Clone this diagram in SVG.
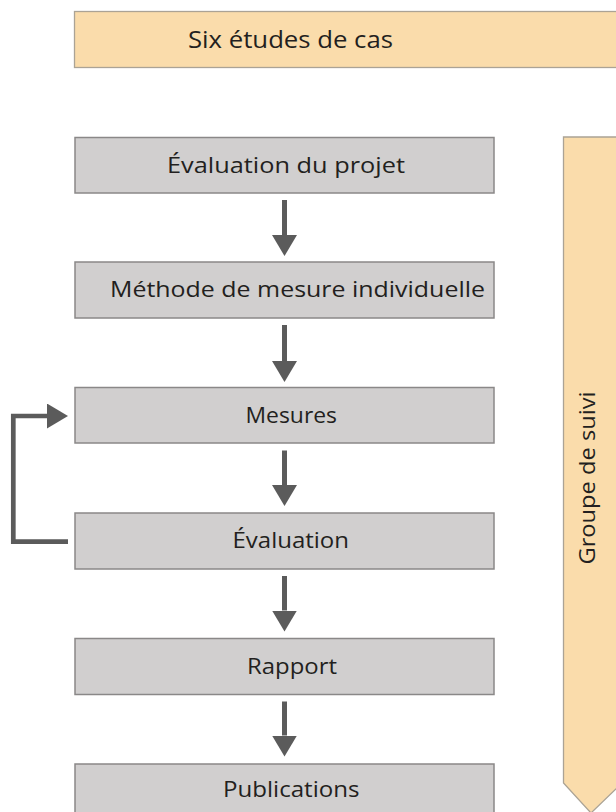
<svg xmlns="http://www.w3.org/2000/svg" width="616" height="812" viewBox="0 0 616 812">
<style>
.box{fill:#d1cfcf;stroke:#8a8888;stroke-width:1.5}
.band{fill:#fadcab;stroke:#aba395;stroke-width:1.3}
.t{font-family:"Open Sans","Noto Sans","Liberation Sans",sans-serif;font-size:22px;fill:#231f20}
.c{fill:none;stroke:#5b5b5b;stroke-width:5}
</style>
<defs>
<marker id="ah" markerUnits="userSpaceOnUse" markerWidth="22" markerHeight="26" refX="0" refY="12.5" orient="auto" viewBox="0 0 22 26">
<path d="M0,0 L21,12.5 L0,25 Z" fill="#5b5b5b"/>
</marker>
</defs>
<rect width="616" height="812" fill="#ffffff"/>
<g id="six-etudes">
<rect class="band" x="74.5" y="11.5" width="560" height="56"/>
<text class="t" x="188" y="48" style="font-size:24px" textLength="205" lengthAdjust="spacingAndGlyphs">Six études de cas</text>
</g>
<g id="groupe-suivi">
<path class="band" d="M563.5,137 H622 V783 L591,813 L563.5,783 Z"/>
<text class="t" transform="translate(595,478) rotate(-90)" text-anchor="middle" textLength="173" lengthAdjust="spacingAndGlyphs">Groupe de suivi</text>
</g>
<g id="evaluation-projet">
<rect class="box" x="75" y="137.5" width="419" height="55.5"/>
<text class="t" x="167" y="173" textLength="238" lengthAdjust="spacingAndGlyphs">Évaluation du projet</text>
</g>
<g id="methode">
<rect class="box" x="75" y="262" width="419" height="56"/>
<text class="t" x="110" y="297" textLength="375" lengthAdjust="spacingAndGlyphs">Méthode de mesure individuelle</text>
</g>
<g id="mesures">
<rect class="box" x="75" y="387.5" width="419" height="55.5"/>
<text class="t" x="245.5" y="423" textLength="91.5" lengthAdjust="spacingAndGlyphs">Mesures</text>
</g>
<g id="evaluation">
<rect class="box" x="75" y="513" width="419" height="56"/>
<text class="t" x="232.5" y="548" textLength="116.5" lengthAdjust="spacingAndGlyphs">Évaluation</text>
</g>
<g id="rapport">
<rect class="box" x="75" y="638.5" width="419" height="56"/>
<text class="t" x="247" y="673.5" textLength="90" lengthAdjust="spacingAndGlyphs">Rapport</text>
</g>
<g id="publications">
<rect class="box" x="75" y="764" width="419" height="56"/>
<text class="t" x="223" y="797" textLength="136.5" lengthAdjust="spacingAndGlyphs">Publications</text>
</g>
<g id="connectors">
<path class="c" d="M284.5,200 V235" marker-end="url(#ah)"/>
<path class="c" d="M284.5,325 V361" marker-end="url(#ah)"/>
<path class="c" d="M284.5,450.5 V485" marker-end="url(#ah)"/>
<path class="c" d="M284.5,576 V610.5" marker-end="url(#ah)"/>
<path class="c" d="M284.5,701.5 V735.5" marker-end="url(#ah)"/>
<path class="c" style="stroke-width:4.7" d="M68,541.7 H13.3 V416 H47" marker-end="url(#ah)"/>
</g>
</svg>
